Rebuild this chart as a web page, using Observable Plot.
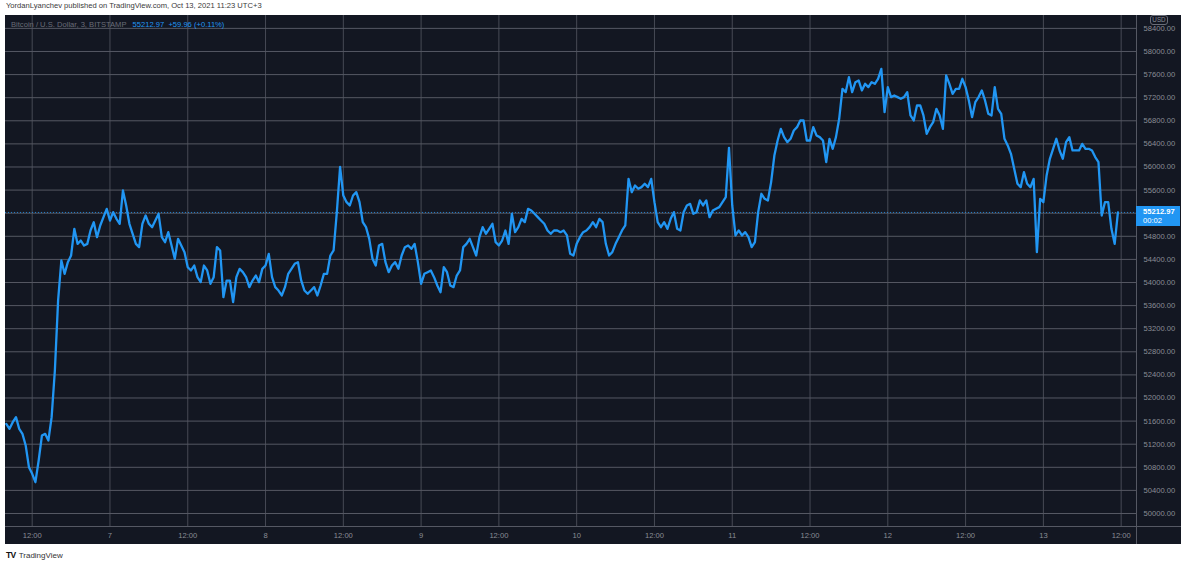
<!DOCTYPE html>
<html>
<head>
<meta charset="utf-8">
<script src="https://cdn.jsdelivr.net/npm/d3@7"></script>
<script src="https://cdn.jsdelivr.net/npm/@observablehq/plot@0.6"></script>
<style>
  body { margin: 0; background: #fff; font-family: "Liberation Sans", Arial, sans-serif; }
  #wrap { position: relative; width: 1189px; height: 563px; overflow: hidden; }
  #wrap > * { position: absolute; }
  #panel { left: 5px; top: 15px; width: 1176px; height: 529px; background: #131722; }
  #header { left: 6px; top: 1px; font-size: 7.6px; color: #3a3a3a; white-space: nowrap; }
  #legend { left: 11px; top: 20px; font-size: 7.6px; white-space: nowrap; }
  #legend .sym { color: #6a6d78; }
  #legend .q { color: #2196f3; margin-left: 6px; }
  .sep { background: #555863; }
  #pricebox { left: 1136px; width: 44px; height: 20px; background: #2196f3; color: #fff; font-size: 7.6px; line-height: 9px; }
  #pricebox div { padding-left: 7px; }
  #usd { left: 1150px; width: 16px; height: 8px; border: 1px solid #6a6d78; border-radius: 3px; background: #131722; color: #8a8d96; font-size: 6.3px; line-height: 8px; text-align: center; }
  #logo { left: 6px; top: 550px; font-size: 8px; color: #333; white-space: nowrap; }
  #logo b { font-weight: 900; font-size: 8.5px; letter-spacing: -0.6px; color: #111; margin-right: 3px; }
</style>
</head>
<body>
<div id="wrap">
  <div id="panel"></div>
</div>
<script>
// ---- data ----
const headerText = "YordanLyanchev published on TradingView.com, Oct 13, 2021 11:23 UTC+3";
const symbolLabel = "Bitcoin / U.S. Dollar, 3, BITSTAMP";
const quoteLabel = "55212.97  +59.96 (+0.11%)";
const lastPrice = 55212.97;
const countdown = "00:02";
const currencyLabel = "USD";
const brandLabel = "TradingView";

// sampled every 30 minutes from 2021-10-06 08:00
const startTime = Date.UTC(2021, 9, 6, 8, 0);
const stepMinutes = 30;
const prices = [
  51552, 51466, 51581, 51668, 51466, 51379, 51177, 50802, 50687, 50542,
  50918, 51350, 51379, 51264, 51668, 52476, 53690, 54381, 54150, 54352,
  54467, 54929, 54669, 54727, 54640, 54669, 54900, 55044, 54785, 54987,
  55131, 55275, 55073, 55218, 55102, 55016, 55593, 55333, 55016, 54842,
  54669, 54612, 55016, 55160, 55016, 54958, 55073, 55189, 54785, 54698,
  54871, 54640, 54410, 54756, 54640, 54525, 54265, 54208, 54294, 54092,
  54006, 54294, 54208, 53977, 54092, 54612, 54554, 53746, 54034, 54034,
  53659, 54092, 54236, 54179, 54092, 53919, 54034, 54121, 54006, 54236,
  54294, 54496, 54092, 53919, 53861, 53775, 53919, 54150, 54236, 54323,
  54352, 54035, 53861, 53804, 53861, 53919, 53775, 53948, 54150, 54150,
  54467, 54554, 55218, 56000, 55506, 55391, 55333, 55506, 55564, 55391,
  55045, 54958, 54756, 54410, 54294, 54641, 54669, 54352, 54179, 54294,
  54352, 54237, 54467, 54612, 54641, 54583, 54669, 54352, 53977, 54150,
  54179, 54208, 54092, 53948, 53832, 54265, 54179, 53948, 53919, 54121,
  54208, 54612, 54669, 54756, 54612, 54467, 54785, 54958, 54843, 54929,
  55016, 54698, 54641, 54727, 54900, 54669, 55189, 54871, 54958, 55102,
  55045, 55275, 55247, 55189, 55131, 55073, 55016, 54900, 54843, 54900,
  54900, 54871, 54900, 54814, 54496, 54467, 54669, 54785, 54871, 54900,
  54958, 55045, 54958, 55102, 55045, 54670, 54468, 54525, 54670, 54785,
  54901, 54987, 55795, 55564, 55680, 55622, 55651, 55709, 55651, 55795,
  55391, 55045, 54958, 55045, 54929, 55103, 55218, 54929, 54901, 55218,
  55334, 55362, 55189, 55218, 55420, 55334, 55420, 55131, 55247, 55276,
  55305, 55391, 55478, 56330, 55334, 54814, 54901, 54814, 54872, 54785,
  54612, 54699, 55218, 55536, 55449, 55420, 55738, 56199, 56459, 56661,
  56517, 56430, 56488, 56632, 56690, 56805, 56805, 56459, 56459, 56690,
  56546, 56517, 56459, 56084, 56488, 56315, 56517, 56834, 57354, 57296,
  57556, 57296, 57469, 57498, 57325, 57440, 57383, 57469, 57440, 57527,
  57700, 56950, 57383, 57210, 57238, 57210, 57181, 57210, 57296, 56892,
  56805, 57065, 57065, 56892, 56575, 56690, 56777, 57007, 56892, 56661,
  57585, 57440, 57267, 57354, 57354, 57527, 57383, 57152, 56863, 57123,
  57210, 57325, 57152, 56921, 56892, 57383, 57007, 56921, 56488, 56373,
  56228, 55968, 55709, 55651, 55911, 55709, 55651, 55795, 54525, 55449,
  55391, 55853, 56142, 56315, 56488, 56286, 56142, 56430, 56517, 56286,
  56286, 56286, 56401, 56315, 56315, 56286, 56171, 56084, 55160, 55391,
  55391, 54930, 54670, 55213
];

const yTicks = [50000, 50400, 50800, 51200, 51600, 52000, 52400, 52800, 53200, 53600,
  54000, 54400, 54800, 55200, 55600, 56000, 56400, 56800, 57200, 57600, 58000, 58400];
const xTickStrings = [
  "2021-10-06T12:00Z", "2021-10-07T00:00Z", "2021-10-07T12:00Z", "2021-10-08T00:00Z",
  "2021-10-08T12:00Z", "2021-10-09T00:00Z", "2021-10-09T12:00Z", "2021-10-10T00:00Z",
  "2021-10-10T12:00Z", "2021-10-11T00:00Z", "2021-10-11T12:00Z", "2021-10-12T00:00Z",
  "2021-10-12T12:00Z", "2021-10-13T00:00Z", "2021-10-13T12:00Z"
];
const xDomainStrings = ["2021-10-06T07:53Z", "2021-10-13T14:22Z"];
const yDomain = [49775, 58623];

// ---- build ----
const data = prices.map((p, i) => ({ time: new Date(startTime + i * stepMinutes * 60000), price: p }));
const xTicks = xTickStrings.map(s => new Date(s));
const W = 1189, H = 563;
const M = { left: 5, right: 53, top: 15, bottom: 37 };
const axisColor = "#8a8d96";

const plot = Plot.plot({
  width: W, height: H,
  marginLeft: M.left, marginRight: M.right, marginTop: M.top, marginBottom: M.bottom,
  style: { background: "transparent", fontFamily: "'Liberation Sans', Arial, sans-serif", fontSize: "7.6px", color: axisColor },
  x: { type: "utc", domain: xDomainStrings.map(s => new Date(s)), label: null },
  y: { domain: yDomain, label: null },
  marks: [
    Plot.gridX(xTicks, { stroke: "#474a55", strokeOpacity: 1 }),
    Plot.gridY(yTicks, { stroke: "#555863", strokeOpacity: 1 }),
    Plot.axisX(xTicks, {
      tickSize: 0, tickPadding: 6, fill: axisColor, label: null,
      tickFormat: d => d.getUTCHours() === 12 ? "12:00" : String(d.getUTCDate())
    }),
    Plot.axisY(yTicks, {
      anchor: "right", tickSize: 0, tickPadding: 7, textAnchor: "start", fill: axisColor, label: null,
      tickFormat: d3.format(".2f")
    }),
    Plot.ruleY([lastPrice], { stroke: "#2196f3", strokeOpacity: 0.8, strokeDasharray: "1,2" }),
    Plot.lineY(data, { x: "time", y: "price", stroke: "#2196f3", strokeWidth: 2.3, strokeLinejoin: "round" })
  ]
});

const wrap = document.getElementById("wrap");
plot.style.left = "0px"; plot.style.top = "0px";
wrap.appendChild(plot);

function add(id, cls, html, css) {
  const el = document.createElement("div");
  if (id) el.id = id;
  if (cls) el.className = cls;
  if (html) el.innerHTML = html;
  Object.assign(el.style, css || {});
  wrap.appendChild(el);
  return el;
}
const paneRight = W - M.right, paneBottom = H - M.bottom;
add(null, "sep", "", { left: paneRight + "px", top: M.top + "px", width: "1px", height: (544 - M.top) + "px" });
add(null, "sep", "", { left: M.left + "px", top: paneBottom + "px", width: (1181 - M.left) + "px", height: "1px" });

add("header", null, headerText);
add("legend", null, `<span class="sym">${symbolLabel}</span><span class="q">${quoteLabel.replace(/ /g, "&nbsp;")}</span>`);

const yScale = plot.scale("y");
const py = yScale.apply(lastPrice);
add("pricebox", null, `<div style="padding-top:1px;font-weight:bold">${lastPrice.toFixed(2)}</div><div>${countdown}</div>`,
  { top: (py - 5.5) + "px" });

// currency badge sits just above the top price label
const yUsd = yScale.apply(58400);
add("usd", null, currencyLabel, { top: (yUsd - 13) + "px" });

add("logo", null, `<b>TV</b>${brandLabel}`);
</script>
</body>
</html>
